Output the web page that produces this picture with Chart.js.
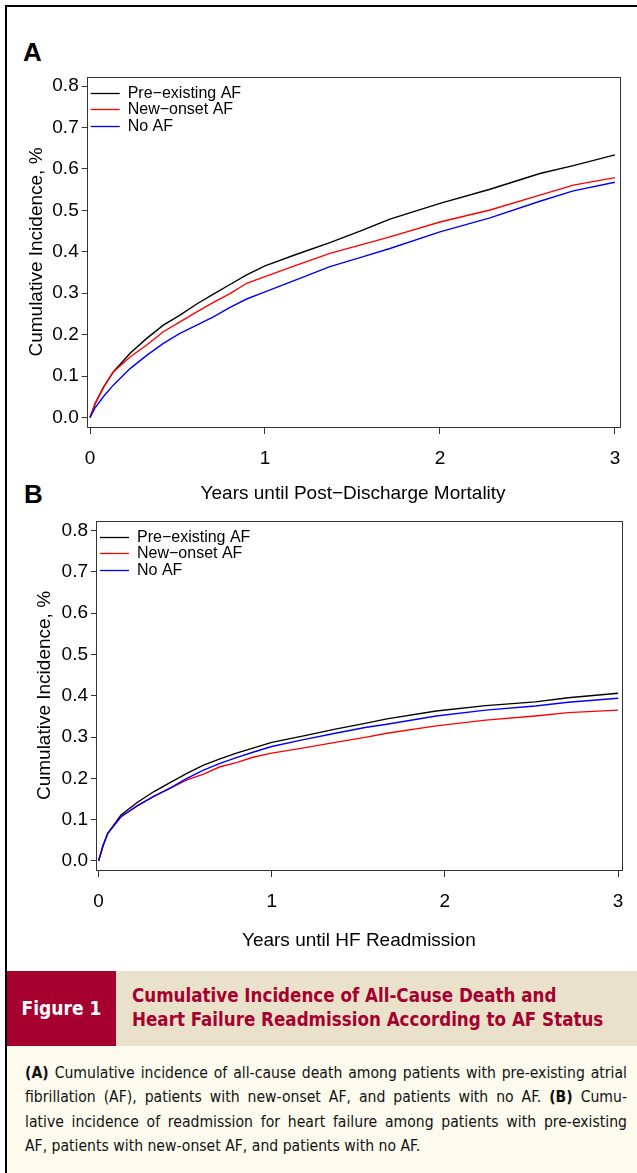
<!DOCTYPE html>
<html>
<head>
<meta charset="utf-8">
<script src="https://cdn.jsdelivr.net/npm/chart.js@4.4.1/dist/chart.umd.min.js"></script>
<style>
  body { margin: 0; width: 637px; height: 1173px; position: relative; background: #fff; overflow: hidden;
         font-family: "Liberation Sans", Arial, sans-serif; }
  .frameL { position: absolute; left: 5px; top: 5px; width: 2px; height: 1168px; background: #000; }
  .frameT { position: absolute; left: 5px; top: 5px; width: 632px; height: 2px; background: #000; }
  .panel { position: absolute; font: bold 26px "Liberation Sans", Arial, sans-serif; line-height: 26px; }
  canvas { position: absolute; left: 0; }
  #capHead { position: absolute; left: 7px; top: 971px; width: 630px; height: 75px; background: #e9e1c9; }
  #figTag { position: absolute; left: 0; top: 0; width: 109px; height: 75px; background: #a5002f; color: #fff;
            font: bold 19px "Liberation Sans Narrow", "DejaVu Sans Condensed", sans-serif; line-height: 75px; text-align: center; }
  #figTitle { position: absolute; left: 125px; top: 13px; color: #a5002f;
              font: bold 18.6px "Liberation Sans Narrow", "DejaVu Sans Condensed", sans-serif; line-height: 24px; }
  #capBody { position: absolute; left: 7px; top: 1046px; width: 630px; height: 127px; background: #fdfbee; }
  #capText { position: absolute; left: 18px; top: 15px; width: 602px;
             font: 15.6px "Liberation Sans Narrow", "DejaVu Sans Condensed", sans-serif; line-height: 24.3px; color: #111; }
  .jl { text-align: justify; text-align-last: justify; white-space: nowrap; }
</style>
</head>
<body>
<div class="frameL"></div>
<div class="frameT"></div>
<div class="panel" style="left:23px; top:39px;">A</div>
<div class="panel" style="left:24px; top:481px;">B</div>
<canvas id="chartA" width="637" height="505" style="top:0;"></canvas>
<canvas id="chartB" width="637" height="447" style="top:505px;"></canvas>
<div id="capHead">
  <div id="figTag">Figure 1</div>
  <div id="figTitle">Cumulative Incidence of All-Cause Death and<br>Heart Failure Readmission According to AF Status</div>
</div>
<div id="capBody">
  <div id="capText">
    <div class="jl"><b>(A)</b> Cumulative incidence of all-cause death among patients with pre-existing atrial</div>
    <div class="jl">fibrillation (AF), patients with new-onset AF, and patients with no AF. <b>(B)</b> Cumu-</div>
    <div class="jl">lative incidence of readmission for heart failure among patients with pre-existing</div>
    <div>AF, patients with new-onset AF, and patients with no AF.</div>
  </div>
</div>

<script>
// series labels and colours (shared by both panels)
const seriesNames = ['Pre\u2212existing AF', 'New\u2212onset AF', 'No AF'];
const seriesColors = ['#000000', '#ff0000', '#0000ff'];

// axis ticks
const xTicks = [0, 1, 2, 3];
const yTicks = [0, 0.1, 0.2, 0.3, 0.4, 0.5, 0.6, 0.7, 0.8];

// Panel A - post-discharge mortality
const mortYears       = [0, 0.03, 0.076, 0.133, 0.229, 0.324, 0.419, 0.514, 0.61, 0.705, 0.8, 0.895, 1.0, 1.181, 1.371, 1.543, 1.714, 2.0, 2.286, 2.571, 2.762, 3.0];
const mortPreExisting = [0, 0.034, 0.072, 0.110, 0.155, 0.191, 0.223, 0.247, 0.274, 0.298, 0.321, 0.344, 0.366, 0.394, 0.422, 0.450, 0.479, 0.517, 0.551, 0.589, 0.608, 0.634];
const mortNewOnset    = [0, 0.034, 0.072, 0.110, 0.146, 0.175, 0.207, 0.231, 0.255, 0.278, 0.299, 0.324, 0.340, 0.368, 0.396, 0.416, 0.436, 0.472, 0.501, 0.537, 0.561, 0.579];
const mortNoAF        = [0, 0.024, 0.050, 0.078, 0.118, 0.150, 0.179, 0.203, 0.223, 0.243, 0.266, 0.286, 0.303, 0.333, 0.364, 0.386, 0.408, 0.448, 0.482, 0.522, 0.547, 0.568];

// Panel B - HF readmission
const readmYears       = [0, 0.025, 0.053, 0.129, 0.225, 0.32, 0.415, 0.51, 0.606, 0.701, 0.796, 0.891, 1.0, 1.177, 1.367, 1.539, 1.665, 1.95, 2.236, 2.522, 2.712, 3.0];
const readmPreExisting = [0, 0.036, 0.067, 0.111, 0.142, 0.168, 0.190, 0.212, 0.232, 0.247, 0.261, 0.273, 0.287, 0.302, 0.319, 0.333, 0.344, 0.363, 0.376, 0.385, 0.395, 0.406];
const readmNewOnset    = [0, 0.036, 0.067, 0.107, 0.134, 0.156, 0.176, 0.196, 0.210, 0.228, 0.238, 0.251, 0.261, 0.273, 0.287, 0.299, 0.309, 0.327, 0.341, 0.351, 0.359, 0.365];
const readmNoAF        = [0, 0.036, 0.067, 0.107, 0.134, 0.157, 0.177, 0.200, 0.220, 0.236, 0.250, 0.263, 0.277, 0.293, 0.309, 0.323, 0.331, 0.351, 0.365, 0.375, 0.384, 0.394];

const FONT = '"Liberation Sans", Arial, sans-serif';

// legend drawn inside the plot box, top-left, like the R figure
const insetLegend = {
  id: 'insetLegend',
  afterDatasetsDraw(chart) {
    const { ctx, chartArea } = chart;
    ctx.save();
    ctx.font = '16px ' + FONT;
    ctx.textBaseline = 'middle';
    chart.data.datasets.forEach((ds, i) => {
      const y = Math.round(chartArea.top + 15.5 + i * 16.5) + 0.5;
      ctx.strokeStyle = ds.borderColor;
      ctx.lineWidth = 1.3;
      ctx.beginPath();
      ctx.moveTo(chartArea.left + 4, y);
      ctx.lineTo(chartArea.left + 33, y);
      ctx.stroke();
      ctx.fillStyle = '#000';
      ctx.fillText(ds.label, chartArea.left + 41, y);
    });
    ctx.restore();
  }
};

// box round the plotting region
const plotBox = {
  id: 'plotBox',
  afterDraw(chart) {
    const { ctx, chartArea: a } = chart;
    ctx.save();
    ctx.strokeStyle = '#333';
    ctx.lineWidth = 1;
    ctx.strokeRect(Math.round(a.left) + 0.5, Math.round(a.top) + 0.5, Math.round(a.right - a.left), Math.round(a.bottom - a.top));
    ctx.restore();
  }
};

function makeChart(id, years, values, cfg) {
  const datasets = values.map((vals, i) => ({
    label: seriesNames[i],
    data: years.map((t, j) => ({ x: t, y: vals[j] })),
    borderColor: seriesColors[i],
    borderWidth: 1.4,
    pointRadius: 0,
    tension: 0,
    order: 2 - i
  }));

  return new Chart(document.getElementById(id), {
    type: 'line',
    data: { datasets },
    options: {
      responsive: false,
      animation: false,
      layout: { padding: { top: cfg.padTop, right: cfg.padRight, bottom: 0, left: 0 } },
      plugins: { legend: { display: false }, tooltip: { enabled: false } },
      scales: {
        x: {
          type: 'linear',
          min: cfg.xMin,
          max: cfg.xMax,
          afterBuildTicks: s => { s.ticks = xTicks.map(v => ({ value: v })); },
          afterFit: s => { s.height = cfg.xHeight; },
          border: { display: false },
          grid: { drawOnChartArea: false, drawTicks: true, tickLength: 7, color: '#333' },
          ticks: { color: '#000', font: { family: FONT, size: 19 }, padding: cfg.xPad, maxRotation: 0 },
          title: { display: true, text: cfg.xTitle, color: '#000', font: { family: FONT, size: 19 }, padding: { top: 0, bottom: 0 } }
        },
        y: {
          type: 'linear',
          min: cfg.yMin,
          max: cfg.yMax,
          afterBuildTicks: s => { s.ticks = yTicks.map(v => ({ value: v })); },
          afterFit: s => { s.width = cfg.yWidth; },
          border: { display: false },
          grid: { drawOnChartArea: false, drawTicks: true, tickLength: 5, color: '#333' },
          ticks: { color: '#000', font: { family: FONT, size: 19 }, padding: 3, callback: v => v.toFixed(1) },
          title: { display: true, text: 'Cumulative Incidence, %', color: '#000', font: { family: FONT, size: 19 }, padding: { top: cfg.yTitlePad, bottom: 0 } }
        }
      }
    },
    plugins: [insetLegend, plotBox]
  });
}

makeChart('chartA', mortYears, [mortPreExisting, mortNewOnset, mortNoAF], {
  padTop: 77, padRight: 17.5, xHeight: 78, yWidth: 86.7, xPad: 13.6, yTitlePad: 25.6,
  xMin: -0.019, xMax: 3.026, yMin: -0.023, yMax: 0.822,
  xTitle: 'Years until Post\u2212Discharge Mortality'
});

makeChart('chartB', readmYears, [readmPreExisting, readmNewOnset, readmNoAF], {
  padTop: 16, padRight: 9.7, xHeight: 82, yWidth: 96, xPad: 13.6, yTitlePad: 33.6,
  xMin: -0.015, xMax: 3.021, yMin: -0.022, yMax: 0.823,
  xTitle: 'Years until HF Readmission'
});
</script>
</body>
</html>
